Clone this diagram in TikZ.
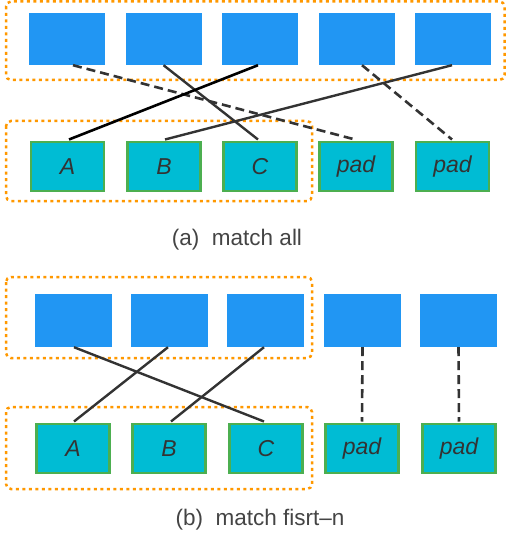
\documentclass[tikz,border=0pt]{standalone}
\usepackage{fontspec}
\setmainfont{Liberation Sans}
\usetikzlibrary{calc}
\definecolor{topblue}{HTML}{2196F3}
\definecolor{cyanfill}{HTML}{00BCD4}
\definecolor{greenborder}{HTML}{4CAF50}
\definecolor{grporange}{HTML}{FF9800}
\definecolor{txtgray}{HTML}{333333}
\definecolor{capgray}{HTML}{444444}
\definecolor{linegray}{HTML}{333333}
\tikzset{
  topbox/.style={fill=topblue, draw=none, minimum width=76pt, minimum height=52pt, inner sep=0pt},
  botbox/.style={fill=cyanfill, draw=greenborder, line width=2.5pt, minimum width=73pt, minimum height=49pt, inner sep=0pt,
    font=\fontsize{23}{26}\selectfont\itshape, text=txtgray},
  grp/.style={draw=grporange, line width=2.5pt, dash pattern=on 3pt off 3.5pt, rounded corners=5pt},
  solidlink/.style={draw=linegray, line width=2.4pt},
  blacklink/.style={draw=black, line width=2.6pt},
  dashlink/.style={draw=linegray, line width=2.6pt, dash pattern=on 9pt off 5pt},
  caption/.style={font=\fontsize{22.5}{26}\selectfont, text=capgray, inner sep=0pt}
}
\begin{document}
\begin{tikzpicture}[x=1pt,y=-1pt]
\useasboundingbox (0,0) rectangle (506,540);
% ---------- (a) ----------
\foreach \i/\x in {1/67,2/163.5,3/260,4/356.5,5/452.5}
  \node[topbox] (ta\i) at (\x,39) {};
\node[botbox] (ba1) at (67.5,166.5) {A};
\node[botbox] (ba2) at (164,166.5) {B};
\node[botbox] (ba3) at (260,166.5) {C};
\node[botbox] (ba4) at (356,166.5) {pad};
\node[botbox] (ba5) at (452.5,166.5) {pad};
\draw[grp] (6,1.5) rectangle (504.5,80);
\draw[grp] (6,121) rectangle (312,201);
\draw[dashlink] ($(ta1.south)+(6,0)$) -- ($(ba4.north)+(-1,-1.25)$);
\draw[solidlink] (ta2.south) -- ($(ba3.north)+(-2,-1.25)$);
\draw[blacklink] ($(ta3.south)+(-2,0)$) -- ($(ba1.north)+(1.5,-1.25)$);
\draw[dashlink] ($(ta4.south)+(5.5,0)$) -- ($(ba5.north)+(-0.5,-1.25)$);
\draw[solidlink] ($(ta5.south)+(-0.5,0)$) -- ($(ba2.north)+(1,-1.25)$);
\node[caption] (capa) at (237,240) {(a)\ \ match all};
% ---------- (b) ----------
\foreach \i/\x in {1/73,2/169.5,3/265.5,4/362.5,5/458.5}
  \node[topbox, minimum width=77pt, minimum height=53pt] (tb\i) at (\x,320.5) {};
\node[botbox] (bb1) at (73,448.5) {A};
\node[botbox] (bb2) at (169,448.5) {B};
\node[botbox] (bb3) at (266,448.5) {C};
\node[botbox] (bb4) at (362,448.5) {pad};
\node[botbox] (bb5) at (459,448.5) {pad};
\draw[grp] (6,277) rectangle (312,358);
\draw[grp] (6,407) rectangle (312,489);
\draw[solidlink] ($(tb1.south)+(1,0)$) -- ($(bb3.north)+(-2,-1.25)$);
\draw[solidlink] ($(tb2.south)+(-1.5,0)$) -- ($(bb1.north)+(1,-1.25)$);
\draw[solidlink] ($(tb3.south)+(-1.5,0)$) -- ($(bb2.north)+(2,-1.25)$);
\draw[dashlink] (tb4.south) -- ($(bb4.north)+(0,-1.25)$);
\draw[dashlink] (tb5.south) -- ($(bb5.north)+(0,-1.25)$);
\node[caption] (capb) at (260,520) {(b)\ \ match fisrt–n};
\end{tikzpicture}
\end{document}
